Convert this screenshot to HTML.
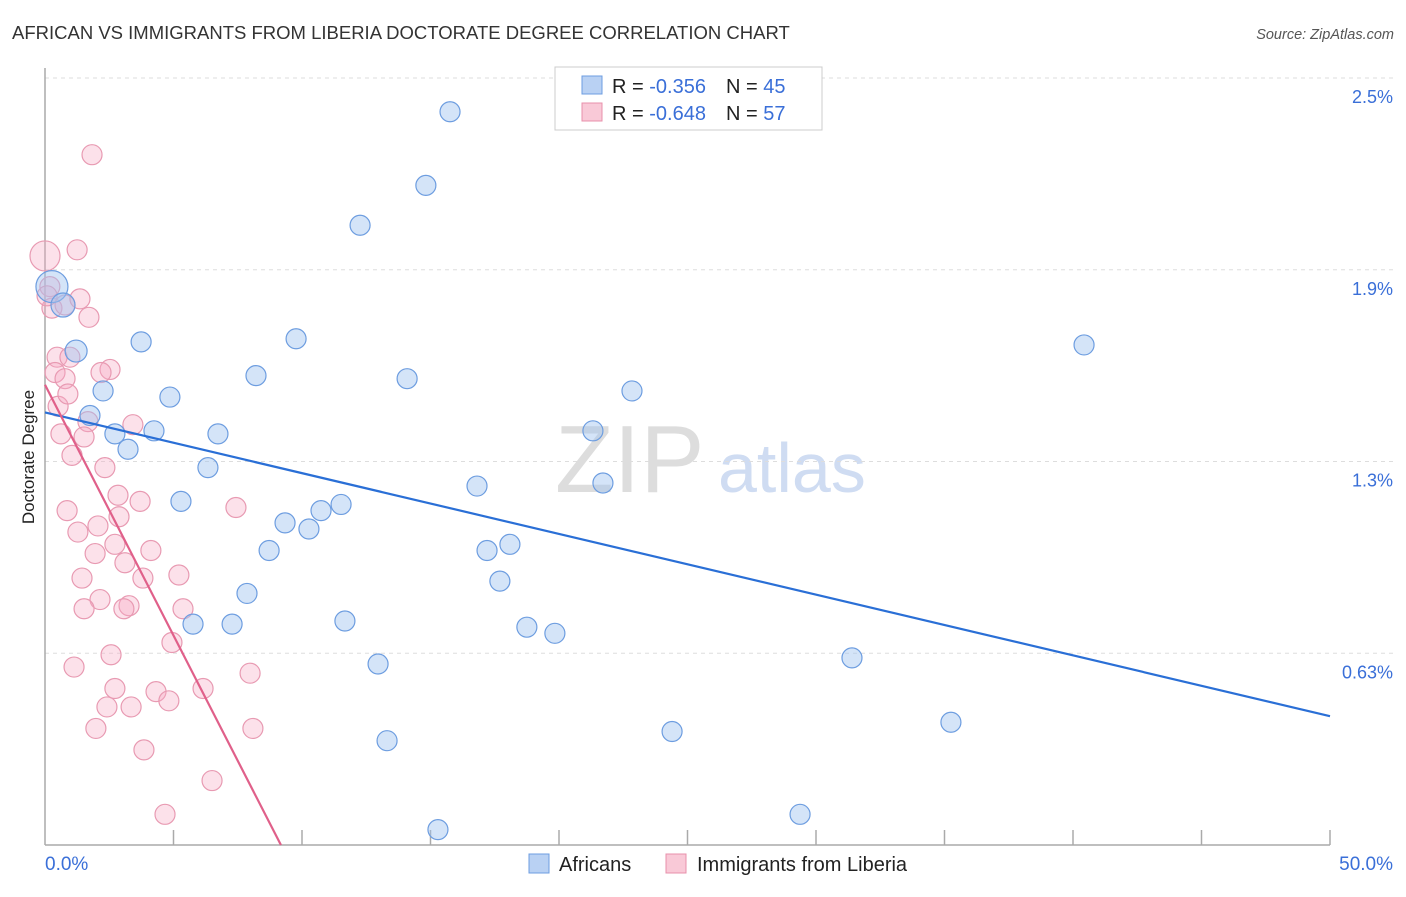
<!DOCTYPE html>
<html><head><meta charset="utf-8"><style>
body{margin:0;background:#fff;font-family:"Liberation Sans",sans-serif;}
svg text{font-family:"Liberation Sans",sans-serif;}
</style></head><body>
<svg id="chart" width="1406" height="892">
<text x="12" y="39" font-size="18.5" fill="#333">AFRICAN VS IMMIGRANTS FROM LIBERIA DOCTORATE DEGREE CORRELATION CHART</text>
<text x="1394" y="39" font-size="14.5" fill="#555" font-style="italic" text-anchor="end">Source: ZipAtlas.com</text>
<text x="555" y="492" font-size="96" fill="#ddd" font-family="Liberation Serif">ZIP</text>
<text x="718" y="492" font-size="70" fill="#cfdcf2">atlas</text>
<text transform="translate(34,457) rotate(-90)" font-size="17" fill="#222" text-anchor="middle">Doctorate Degree</text>
<g id="grid"></g><g id="pts"></g><g id="lines"></g>
<g>
<rect x="555" y="67" width="267" height="63" fill="#fff" stroke="#ccc"/>
<rect x="582" y="76" width="20" height="18" fill="#b9d1f3" stroke="#6d9de0"/>
<rect x="582" y="103" width="20" height="18" fill="#f9c9d7" stroke="#e890ab"/>
<text x="612" y="93" font-size="20" fill="#222">R = <tspan fill="#3a6fd8">-0.356</tspan><tspan dx="20">N = </tspan><tspan fill="#3a6fd8">45</tspan></text>
<text x="612" y="120" font-size="20" fill="#222">R = <tspan fill="#3a6fd8">-0.648</tspan><tspan dx="20">N = </tspan><tspan fill="#3a6fd8">57</tspan></text>
</g>
<g>
<rect x="529" y="854" width="20" height="19" fill="#b9d1f3" stroke="#6d9de0"/>
<text x="559" y="871" font-size="20" fill="#222">Africans</text>
<rect x="666" y="854" width="20" height="19" fill="#f9c9d7" stroke="#e890ab"/>
<text x="697" y="871" font-size="20" fill="#222">Immigrants from Liberia</text>
</g>
<text x="45" y="870" font-size="19" fill="#3a6fd8">0.0%</text>
<text x="1393" y="870" font-size="19" fill="#3a6fd8" text-anchor="end">50.0%</text>
</svg>
<script>
const yTicks=[2.5,1.875,1.25,0.625];
const yTickLabels=["2.5%","1.9%","1.3%","0.63%"];
const blueX=[0.27,0.70,1.21,3.74,9.77,2.26,4.86,8.21,14.09,22.84,1.75,2.72,4.24,6.73,3.23,6.34,5.29,9.34,10.27,10.74,11.52,8.72,16.81,21.32,21.71,17.20,18.09,17.70,7.86,5.76,7.28,11.67,18.75,19.84,12.96,31.40,13.31,24.40,35.25,15.29,29.38,15.76,14.82,12.26,40.43];
const blueY=[1.82,1.76,1.61,1.64,1.65,1.48,1.46,1.53,1.52,1.48,1.40,1.34,1.35,1.34,1.29,1.23,1.12,1.05,1.03,1.09,1.11,0.96,1.17,1.35,1.18,0.96,0.98,0.86,0.82,0.72,0.72,0.73,0.71,0.69,0.59,0.61,0.34,0.37,0.40,0.05,0.10,2.39,2.15,2.02,1.63];
const pinkX=[1.83,1.25,0,0.19,0.27,0.78,1.71,0.47,0.97,0.39,0.78,2.53,2.18,0.51,0.89,1.67,1.52,0.62,1.05,2.33,2.84,3.70,7.43,0.86,2.06,2.88,1.28,1.95,2.72,4.12,3.11,1.44,3.81,5.21,2.14,3.27,1.52,3.07,5.37,4.94,2.57,1.13,7.98,2.72,6.15,4.32,2.41,3.35,4.82,1.98,8.09,3.85,6.50,4.67,3.42,0.08,1.36];
const pinkY=[2.25,1.94,1.92,1.82,1.75,1.76,1.72,1.59,1.59,1.54,1.52,1.55,1.54,1.43,1.47,1.38,1.33,1.34,1.27,1.23,1.14,1.12,1.10,1.09,1.04,1.07,1.02,0.95,0.98,0.96,0.92,0.87,0.87,0.88,0.80,0.78,0.77,0.77,0.77,0.66,0.62,0.58,0.56,0.51,0.51,0.50,0.45,0.45,0.47,0.38,0.38,0.31,0.21,0.10,1.37,1.79,1.78];
const blueTrend=[[0,1.41],[50,0.42]];
const pinkTrend=[[0,1.50],[9.18,0]];
const X=v=>45+v*25.7, Y=v=>845-v*306.8;
const NS="http://www.w3.org/2000/svg";
function mk(t,a,p){const e=document.createElementNS(NS,t);for(const k in a)e.setAttribute(k,a[k]);p.appendChild(e);return e;}
const grid=document.getElementById('grid');
yTicks.forEach((t,i)=>{
 const l=mk('line',{x1:45,x2:1393,y1:Y(t),y2:Y(t),stroke:'#ddd','stroke-dasharray':'4,4'},grid);
 
 
 const tx=mk('text',{x:1393,y:Y(t)+25,'font-size':18,fill:'#3a6fd8','text-anchor':'end'},grid);
 tx.textContent=yTickLabels[i];
 
 
});
const ax=mk('line',{x1:45,x2:1330,y1:845,y2:845,stroke:'#aaa','stroke-width':1.5},grid);


const ay=mk('line',{x1:45,x2:45,y1:68,y2:845,stroke:'#aaa','stroke-width':1.5},grid);


for(let i=1;i<=10;i++){const tk=mk('line',{x1:X(i*5),x2:X(i*5),y1:830,y2:845,stroke:'#aaa','stroke-width':1.5},grid);
 
 }
const pts=document.getElementById('pts');
pinkX.forEach((x,i)=>{const r=i==2?15:10;
 const c=mk('circle',{cx:X(x),cy:Y(pinkY[i]),r:r,fill:'rgba(245,170,195,0.35)',stroke:'#e89ab2','stroke-width':1.2},pts);
 
 });
blueX.forEach((x,i)=>{const r=i==0?16:(i==1?12:(i==2?11:10));
 const c=mk('circle',{cx:X(x),cy:Y(blueY[i]),r:r,fill:'rgba(160,195,240,0.45)',stroke:'#6d9de0','stroke-width':1.2},pts);
 
 });
const lines=document.getElementById('lines');
const bl=mk('line',{x1:X(blueTrend[0][0]),y1:Y(blueTrend[0][1]),x2:X(blueTrend[1][0]),y2:Y(blueTrend[1][1]),stroke:'#2a6fd6','stroke-width':2.2},lines);


const pl=mk('line',{x1:X(pinkTrend[0][0]),y1:Y(pinkTrend[0][1]),x2:X(pinkTrend[1][0]),y2:Y(pinkTrend[1][1]),stroke:'#e0608a','stroke-width':2.2},lines);


</script>
</body></html>
